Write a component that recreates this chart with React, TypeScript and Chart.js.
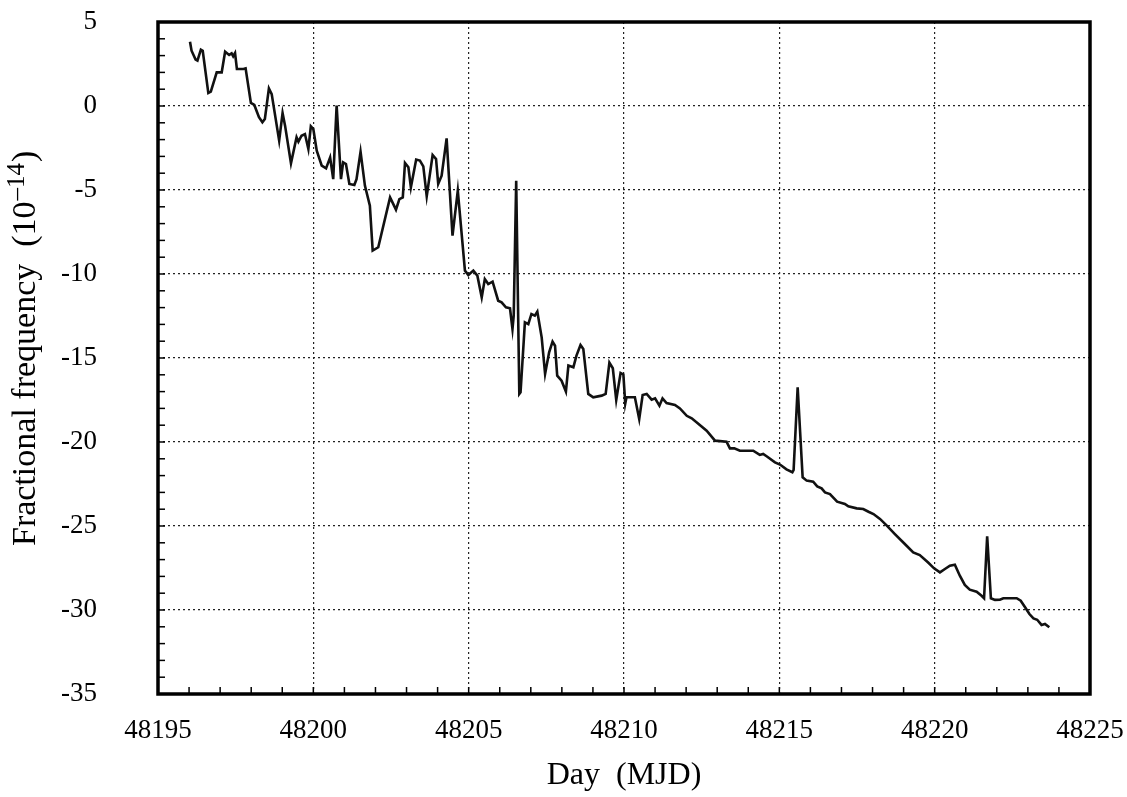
import React, { useEffect, useRef } from 'react';
import { Chart, registerables } from 'chart.js';

Chart.register(...registerables);

// Day (MJD) of each sample
const days: number[] = [
  48196.03, 48196.08, 48196.21, 48196.27, 48196.38, 48196.44, 48196.62, 48196.70, 48196.89, 48197.05,
  48197.16, 48197.29, 48197.37, 48197.42, 48197.48, 48197.54, 48197.75, 48197.82, 48197.99, 48198.10,
  48198.25, 48198.36, 48198.44, 48198.57, 48198.66, 48198.90, 48199.01, 48199.09, 48199.28, 48199.46,
  48199.52, 48199.62, 48199.73, 48199.84, 48199.92, 48200.00, 48200.11, 48200.27, 48200.41, 48200.54,
  48200.64, 48200.75, 48200.89, 48200.96, 48201.05, 48201.16, 48201.32, 48201.39, 48201.52, 48201.66,
  48201.82, 48201.91, 48202.09, 48202.47, 48202.66, 48202.77, 48202.88, 48202.95, 48203.06, 48203.14,
  48203.31, 48203.43, 48203.54, 48203.65, 48203.84, 48203.95, 48204.02, 48204.13, 48204.29, 48204.48,
  48204.65, 48204.88, 48204.99, 48205.15, 48205.28, 48205.42, 48205.52, 48205.63, 48205.77, 48205.95,
  48206.06, 48206.20, 48206.33, 48206.41, 48206.45, 48206.53, 48206.63, 48206.67, 48206.81, 48206.92,
  48207.02, 48207.13, 48207.21, 48207.35, 48207.46, 48207.59, 48207.70, 48207.78, 48207.85, 48207.99,
  48208.13, 48208.21, 48208.37, 48208.47, 48208.60, 48208.69, 48208.85, 48209.01, 48209.28, 48209.41,
  48209.53, 48209.64, 48209.75, 48209.89, 48209.98, 48210.04, 48210.08, 48210.35, 48210.49, 48210.60,
  48210.73, 48210.89, 48211.00, 48211.14, 48211.24, 48211.37, 48211.64, 48211.80, 48212.02, 48212.18,
  48212.44, 48212.66, 48212.93, 48213.30, 48213.41, 48213.55, 48213.73, 48214.16, 48214.37, 48214.48,
  48214.59, 48214.86, 48215.02, 48215.23, 48215.42, 48215.46, 48215.59, 48215.75, 48215.88, 48216.09,
  48216.22, 48216.36, 48216.47, 48216.63, 48216.86, 48217.11, 48217.22, 48217.49, 48217.70, 48217.87,
  48218.03, 48218.24, 48218.46, 48218.72, 48219.04, 48219.31, 48219.52, 48219.79, 48219.98, 48220.17,
  48220.33, 48220.49, 48220.65, 48220.81, 48220.97, 48221.13, 48221.35, 48221.51, 48221.59, 48221.69,
  48221.81, 48221.94, 48222.10, 48222.21, 48222.64, 48222.77, 48222.91, 48223.05, 48223.18, 48223.30,
  48223.44, 48223.55, 48223.69,
];

// Fractional frequency (10^-14)
const freq: number[] = [
  3.83, 3.29, 2.76, 2.70, 3.35, 3.29, 0.77, 0.85, 2.00, 2.00,
  3.23, 3.04, 3.13, 2.96, 3.15, 2.20, 2.20, 2.24, 0.18, 0.06,
  -0.67, -0.97, -0.77, 1.05, 0.71, -2.06, -0.42, -1.17, -3.41, -1.86,
  -2.12, -1.77, -1.67, -2.56, -1.21, -1.37, -2.66, -3.55, -3.71, -3.06,
  -4.35, 0.02, -4.35, -3.35, -3.45, -4.64, -4.70, -4.35, -2.72, -4.74,
  -5.93, -8.61, -8.41, -5.44, -6.17, -5.54, -5.44, -3.39, -3.65, -4.84,
  -3.19, -3.25, -3.59, -5.38, -2.92, -3.15, -4.64, -4.15, -1.93, -7.72,
  -5.04, -9.80, -10.06, -9.80, -10.10, -11.39, -10.30, -10.60, -10.46, -11.59,
  -11.69, -11.98, -12.04, -13.27, -12.48, -4.45, -17.14, -17.04, -12.88, -12.98,
  -12.38, -12.48, -12.24, -13.77, -15.95, -14.66, -14.03, -14.27, -16.05, -16.35,
  -17.00, -15.45, -15.55, -14.86, -14.23, -14.46, -17.14, -17.34, -17.24, -17.14,
  -15.28, -15.61, -17.50, -15.89, -15.98, -17.72, -17.34, -17.34, -18.63, -17.20,
  -17.14, -17.48, -17.40, -17.84, -17.40, -17.68, -17.80, -18.00, -18.44, -18.59,
  -18.99, -19.33, -19.92, -19.98, -20.38, -20.38, -20.52, -20.52, -20.77, -20.71,
  -20.85, -21.21, -21.34, -21.63, -21.80, -21.66, -16.74, -22.10, -22.30, -22.36,
  -22.64, -22.76, -23.00, -23.10, -23.55, -23.69, -23.83, -23.95, -23.99, -24.15,
  -24.29, -24.58, -24.98, -25.48, -26.07, -26.57, -26.73, -27.17, -27.52, -27.76,
  -27.56, -27.36, -27.30, -27.96, -28.51, -28.79, -28.91, -29.15, -29.30, -25.61,
  -29.30, -29.40, -29.39, -29.30, -29.30, -29.45, -29.84, -30.24, -30.50, -30.58,
  -30.89, -30.83, -31.03,
];

const xTicks: number[] = [48195, 48200, 48205, 48210, 48215, 48220, 48225];
const yTicks: number[] = [5, 0, -5, -10, -15, -20, -25, -30, -35];
const xMinorStep = 1;
const yMinorStep = 1;

const xTitle = 'Day  (MJD)';
const yTitleMain = 'Fractional frequency  (10';
const yTitleSup = '\u201314';
const yTitleEnd = ')';

const SERIF = '"Liberation Serif", "DejaVu Serif", serif';

const framePlugin = {
  id: 'framePlugin',
  afterDatasetsDraw(chart: any) {
    const { ctx, chartArea } = chart;
    const { left, right, top, bottom } = chartArea;
    const xs = chart.scales.x;
    const ys = chart.scales.y;
    ctx.save();
    ctx.strokeStyle = '#000';
    ctx.lineWidth = 1.5;
    const yMin = yTicks[yTicks.length - 1];
    const yMax = yTicks[0];
    for (let v = yMin; v <= yMax; v += yMinorStep) {
      const py = ys.getPixelForValue(v);
      ctx.beginPath();
      ctx.moveTo(left, py);
      ctx.lineTo(left + 7, py);
      ctx.stroke();
    }
    for (let d = xTicks[0]; d <= xTicks[xTicks.length - 1]; d += xMinorStep) {
      const px = xs.getPixelForValue(d);
      ctx.beginPath();
      ctx.moveTo(px, bottom);
      ctx.lineTo(px, bottom - 7);
      ctx.stroke();
    }
    ctx.lineWidth = 3.5;
    ctx.strokeRect(left, top, right - left, bottom - top);
    ctx.restore();

    // axis titles
    ctx.save();
    ctx.fillStyle = '#000';
    ctx.font = `32px ${SERIF}`;
    ctx.textAlign = 'center';
    ctx.textBaseline = 'middle';
    ctx.fillText(xTitle, (left + right) / 2, 776);
    ctx.restore();

    ctx.save();
    ctx.fillStyle = '#000';
    ctx.translate(26, 546);
    ctx.rotate(-Math.PI / 2);
    ctx.textAlign = 'left';
    ctx.textBaseline = 'middle';
    ctx.font = `34px ${SERIF}`;
    ctx.fillText(yTitleMain, 0, 0);
    let w = ctx.measureText(yTitleMain).width;
    ctx.font = `25px ${SERIF}`;
    ctx.fillText(yTitleSup, w + 1, -9);
    w += ctx.measureText(yTitleSup).width + 2;
    ctx.font = `34px ${SERIF}`;
    ctx.fillText(yTitleEnd, w, 0);
    ctx.restore();
  },
};

export default function App() {
  const canvasRef = useRef<HTMLCanvasElement | null>(null);

  useEffect(() => {
    const canvas = canvasRef.current;
    if (!canvas) return;
    const points = days.map((d, i) => ({ x: d, y: freq[i] }));
    const chart = new Chart(canvas, {
      type: 'line',
      data: {
        datasets: [
          {
            data: points,
            borderColor: '#111',
            borderWidth: 2.6,
            pointRadius: 0,
            tension: 0,
            fill: false,
          },
        ],
      },
      options: {
        animation: false,
        responsive: false,
        devicePixelRatio: 1,
        layout: { autoPadding: false, padding: { top: 22, right: 37, left: 0, bottom: 0 } },
        plugins: {
          legend: { display: false },
          tooltip: { enabled: false },
          title: { display: false },
        },
        scales: {
          x: {
            type: 'linear',
            min: xTicks[0],
            max: xTicks[xTicks.length - 1],
            afterFit(s: any) {
              s.height = 103;
              s.paddingLeft = 0;
              s.paddingRight = 0;
            },
            afterBuildTicks(s: any) {
              s.ticks = xTicks.map((v) => ({ value: v }));
            },
            ticks: {
              callback: (v: any) => String(v),
              font: { family: SERIF, size: 27 },
              color: '#000',
              padding: 21,
              maxRotation: 0,
              autoSkip: false,
            },
            grid: { color: '#222', lineWidth: 1.2, drawTicks: false },
            border: { display: false, dash: [2, 3] },
          },
          y: {
            type: 'linear',
            min: yTicks[yTicks.length - 1],
            max: yTicks[0],
            afterFit(s: any) {
              s.width = 158;
              s.paddingTop = 0;
              s.paddingBottom = 0;
            },
            afterBuildTicks(s: any) {
              s.ticks = yTicks.map((v) => ({ value: v }));
            },
            ticks: {
              callback: (v: any) => String(v),
              font: { family: SERIF, size: 27 },
              color: '#000',
              padding: 61,
              autoSkip: false,
            },
            grid: { color: '#222', lineWidth: 1.2, drawTicks: false },
            border: { display: false, dash: [2, 3] },
          },
        },
      },
      plugins: [framePlugin],
    });
    return () => chart.destroy();
  }, []);

  return (
    <div style={{ position: 'fixed', left: 0, top: 0, width: 1127, height: 797, background: '#fff' }}>
      <canvas ref={canvasRef} width={1127} height={797} style={{ width: 1127, height: 797, display: 'block' }} />
    </div>
  );
}
